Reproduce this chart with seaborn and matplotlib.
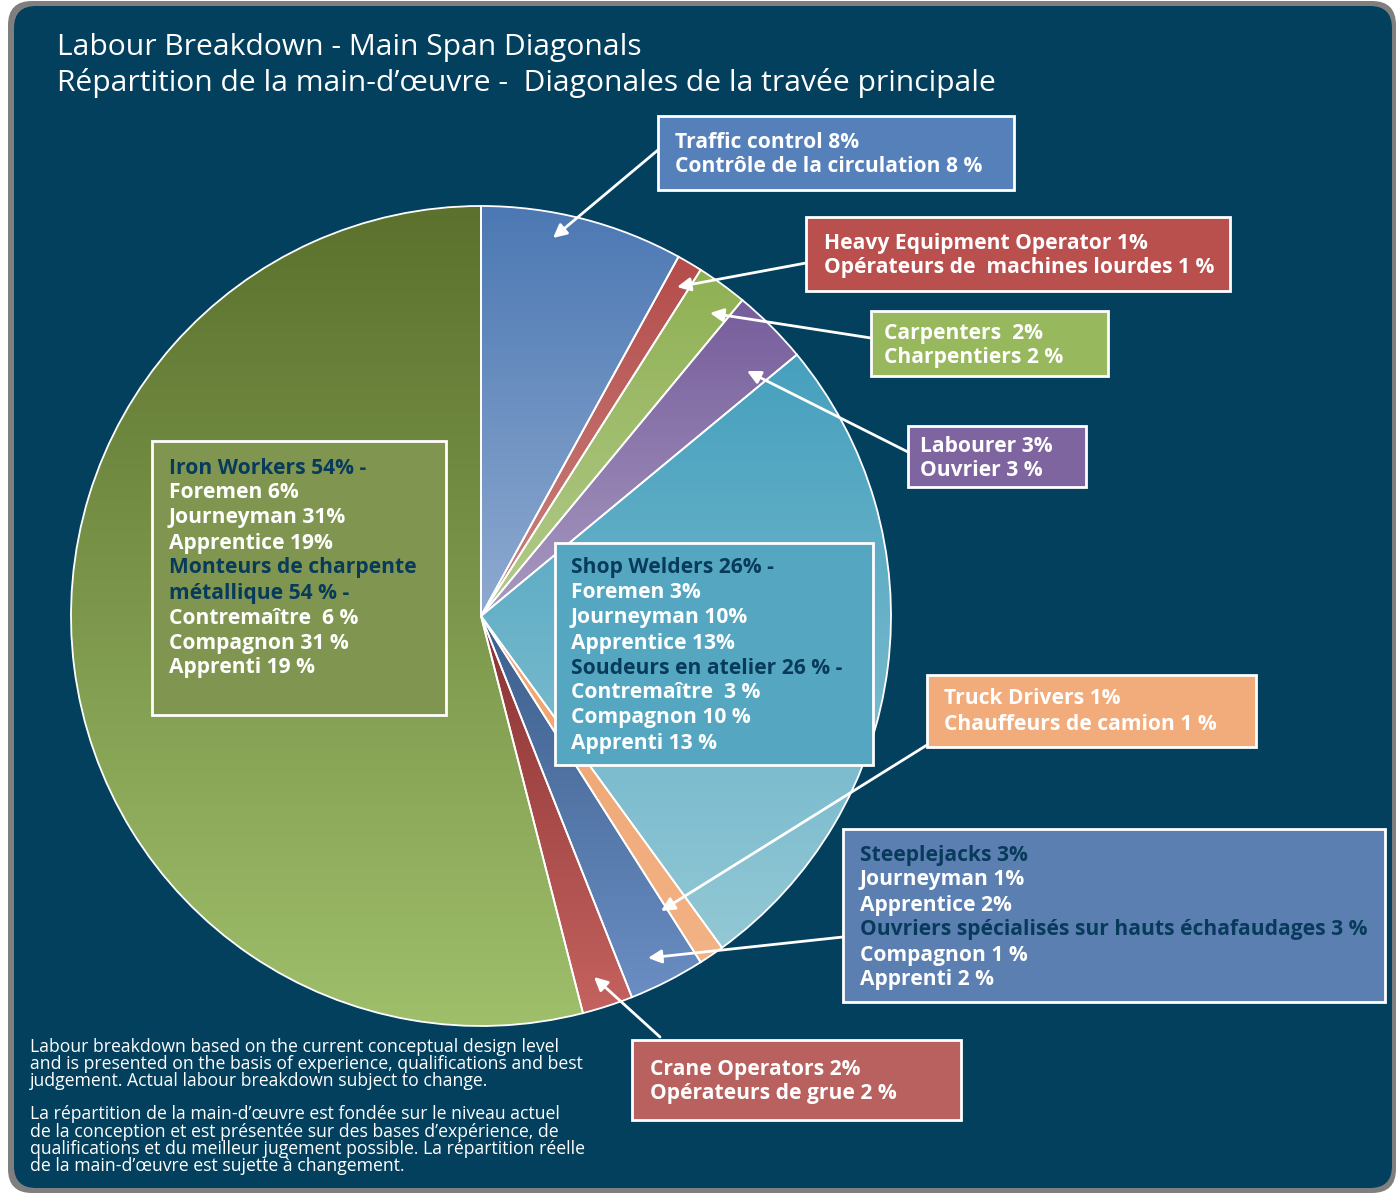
import numpy as np
import matplotlib.pyplot as plt
from matplotlib.patches import FancyBboxPatch, Rectangle
import seaborn as sns

sns.set_theme(style='white')
plt.rcParams['font.family'] = ['Open Sans', 'DejaVu Sans']

# --- data -------------------------------------------------------------
categories = ['Traffic control', 'Heavy Equipment Operator', 'Carpenters',
              'Labourer', 'Shop Welders', 'Truck Drivers', 'Steeplejacks',
              'Crane Operators', 'Iron Workers']
shares = [8, 1, 2, 3, 26, 1, 3, 2, 54]

# gradient colours for each wedge (top -> bottom)
top_colors = ['#4c78b3', '#b44c4a', '#8fb052', '#765d9b', '#46a0be',
              '#eea270', '#3d5f8c', '#8a3333', '#5b712d']
bottom_colors = ['#8eaad0', '#cb8682', '#b3cb8d', '#a89ac1', '#93c8d5',
                 '#f3b385', '#6a8dc3', '#c4625f', '#9fbf6b']

title_lines = ['Labour Breakdown - Main Span Diagonals',
               'Répartition de la main-d\u2019œuvre -  Diagonales de la travée principale']

traffic_text = ['Traffic control 8%', 'Contrôle de la circulation 8 %']
heavy_text = ['Heavy Equipment Operator 1%', 'Opérateurs de  machines lourdes 1 %']
carp_text = ['Carpenters  2%', 'Charpentiers 2 %']
labour_text = ['Labourer 3%', 'Ouvrier 3 %']
welder_text = ['Shop Welders 26% -', 'Foremen 3%', 'Journeyman 10%', 'Apprentice 13%',
               'Soudeurs en atelier 26 % -', 'Contremaître  3 %', 'Compagnon 10 %',
               'Apprenti 13 %']
truck_text = ['Truck Drivers 1%', 'Chauffeurs de camion 1 %']
steeple_text = ['Steeplejacks 3%', 'Journeyman 1%', 'Apprentice 2%',
                'Ouvriers spécialisés sur hauts échafaudages 3 %', 'Compagnon 1 %',
                'Apprenti 2 %']
crane_text = ['Crane Operators 2%', 'Opérateurs de grue 2 %']
iron_text = ['Iron Workers 54% -', 'Foremen 6%', 'Journeyman 31%', 'Apprentice 19%',
             'Monteurs de charpente', 'métallique 54 % -', 'Contremaître  6 %',
             'Compagnon 31 %', 'Apprenti 19 %']

footnote = ['Labour breakdown based on the current conceptual design level',
            'and is presented on the basis of experience, qualifications and best',
            'judgement. Actual labour breakdown subject to change.',
            '',
            'La répartition de la main-d\u2019œuvre est fondée sur le niveau actuel',
            'de la conception et est présentée sur des bases d\u2019expérience, de',
            'qualifications et du meilleur jugement possible. La répartition réelle',
            'de la main-d\u2019œuvre est sujette à changement.']

BG = '#03405e'
NAVY = '#083b5b'
W, H = 1396, 1194

fig = plt.figure(figsize=(W / 100, H / 100), dpi=100)
fig.patch.set_facecolor('white')
ax = fig.add_axes([0, 0, 1, 1])

# panel with grey rim
ax.add_patch(FancyBboxPatch((8, 1), 1388, 1192, boxstyle='round,pad=0,rounding_size=24',
                            facecolor='#7f7f7f', edgecolor='none', zorder=-3))
ax.add_patch(FancyBboxPatch((14, 6), 1378, 1182, boxstyle='round,pad=0,rounding_size=22',
                            facecolor=BG, edgecolor='none', zorder=-2))

# pie (y axis runs downward, so start at -90 and go counter-clockwise in data)
wedges, _ = ax.pie(shares, startangle=-90, counterclock=True, center=(481, 616),
                   radius=410,
                   wedgeprops=dict(facecolor='none', edgecolor='white', linewidth=1.3))

for w, c0, c1 in zip(wedges, top_colors, bottom_colors):
    ext = w.get_path().get_extents()
    grad = np.array(sns.blend_palette([c0, c1], n_colors=256)).reshape(256, 1, 3)
    im = ax.imshow(grad, extent=(ext.x0, ext.x1, ext.y1, ext.y0), origin='upper',
                   aspect='auto', interpolation='bilinear', zorder=0.5)
    im.set_clip_path(w)


def label_box(x0, y0, x1, y1, color, lines, y_first, step=25, navy=(), pad=17, fs=15.1):
    ax.add_patch(Rectangle((x0, y0), x1 - x0, y1 - y0, facecolor=color,
                           edgecolor='white', linewidth=2, zorder=3))
    for i, line in enumerate(lines):
        ax.text(x0 + pad, y_first + i * step, line, color=NAVY if i in navy else 'white',
                fontsize=fs, fontweight='bold', va='center', ha='left', zorder=4)


def arrow(start, end):
    ax.annotate('', xy=end, xytext=start, zorder=5,
                arrowprops=dict(arrowstyle='-|>', color='white', lw=2,
                                mutation_scale=20, shrinkA=0, shrinkB=0))


label_box(658, 116, 1014, 190, '#5680b9', traffic_text, 142)
arrow((658, 150), (553, 238))

label_box(806, 217, 1230, 291, '#b9504e', heavy_text, 243, pad=18)
arrow((806, 263), (677, 287))

label_box(871, 311, 1108, 376, '#98b85e', carp_text, 334, step=23, pad=13)
arrow((871, 338), (710, 313))

label_box(908, 426, 1086, 487, '#7e65a0', labour_text, 446, pad=12)
arrow((908, 452), (747, 371))

label_box(555, 543, 873, 765, '#55a7c1', welder_text, 568, navy=(0, 4), pad=16)

label_box(927, 675, 1256, 747, '#f2ac7c', truck_text, 699)
arrow((927, 745), (661, 911))

label_box(843, 829, 1385, 1002, '#5a7fb0', steeple_text, 855, navy=(0, 3))
arrow((843, 937), (648, 958))

label_box(632, 1040, 961, 1120, '#b8615e', crane_text, 1069, pad=18)
arrow((660, 1037), (594, 977))

label_box(152, 441, 446, 715, '#809650', iron_text, 468, navy=(0, 4, 5))

# titles and notes
for i, line in enumerate(title_lines):
    ax.text(57, 48 + i * 35, line, color='white', fontsize=21.6, va='center', ha='left')

note_y = [1047, 1064, 1081, 1097, 1114, 1132, 1149, 1166]
for y, line in zip(note_y, footnote):
    ax.text(30, y, line, color='white', fontsize=12.7, va='center', ha='left')

ax.set_xlim(0, W)
ax.set_ylim(H, 0)
ax.set_aspect('auto')
ax.axis('off')

fig.savefig('out.png', dpi=100, facecolor=fig.get_facecolor())
